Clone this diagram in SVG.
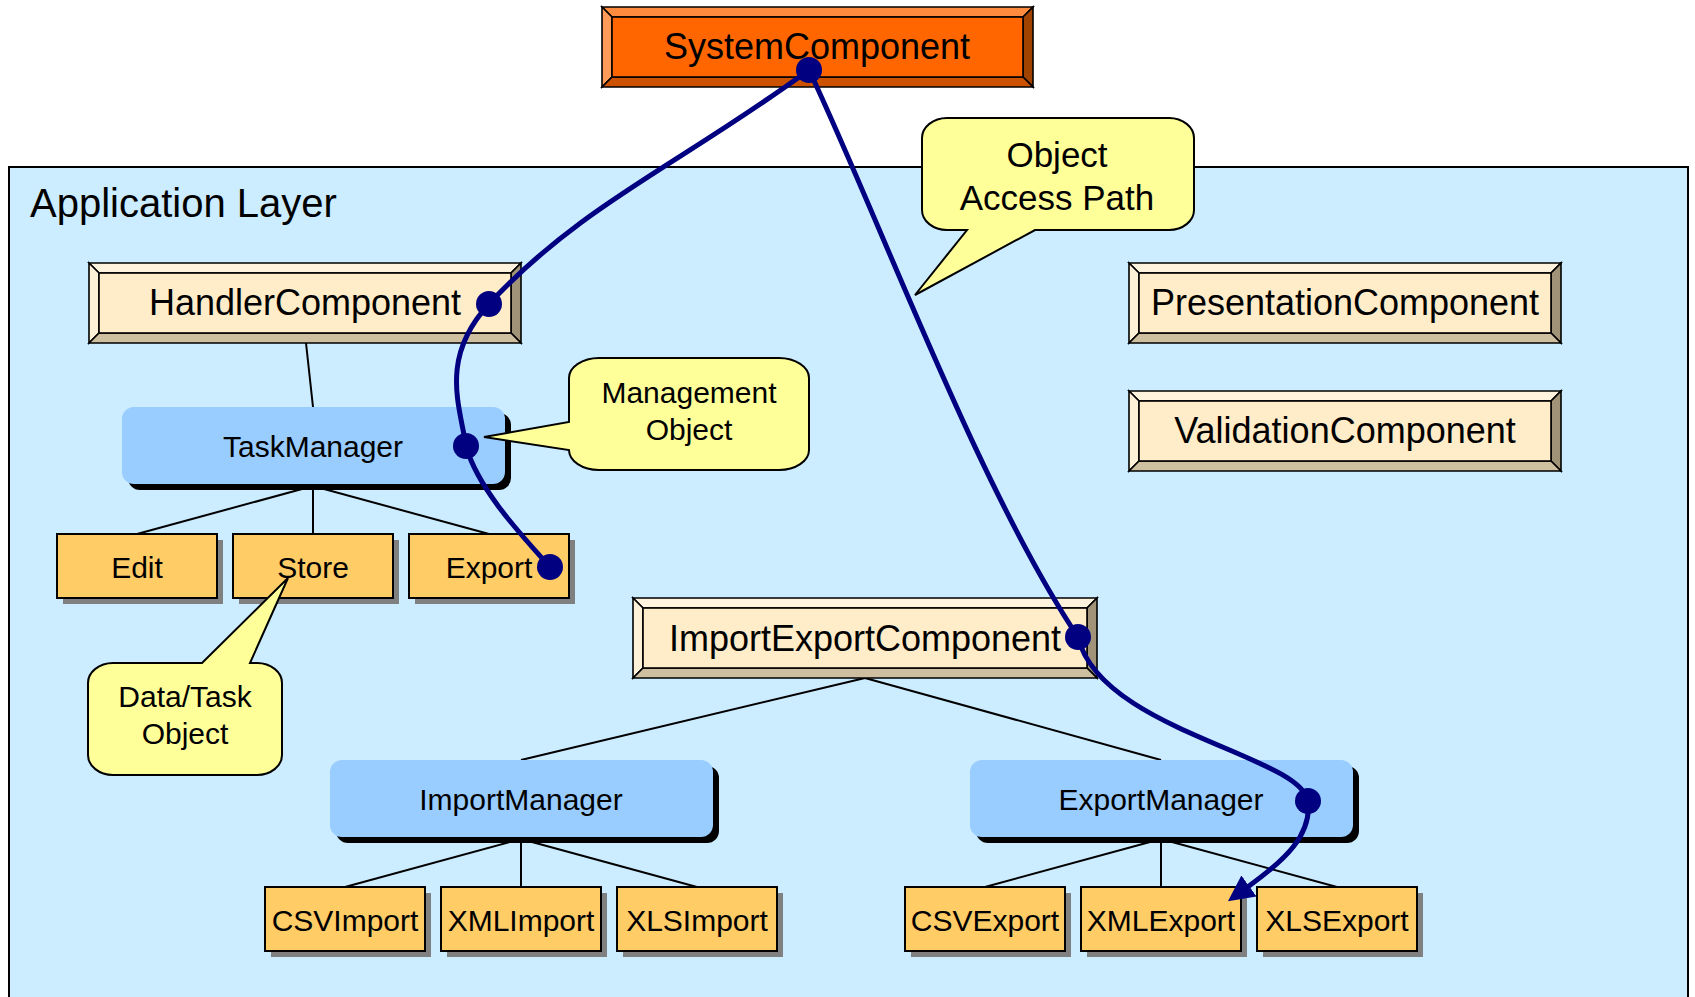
<svg xmlns="http://www.w3.org/2000/svg" width="1695" height="997" viewBox="0 0 1695 997">
  <style>
    text { font-family: "Liberation Sans", Arial, sans-serif; fill: #000; text-anchor: middle; }
    .title { font-size: 40px; text-anchor: start; }
    .comp-label { font-size: 36px; }
    .mgr-label, .leaf-label { font-size: 30px; }
    .note-label { font-size: 30px; }
    .note-big { font-size: 35px; }
    .edge { stroke: #000; stroke-width: 2; fill: none; }
    .bev { stroke: #000; stroke-width: 1.6; stroke-linejoin: miter; }
    .comp .face { fill: #FFECC8; }
    .comp .top { fill: #FFF3DE; }
    .comp .left { fill: #FFF0D8; }
    .comp .right { fill: #A09378; }
    .comp .bottom { fill: #CDBFA0; }
    .sys .face { fill: #FF6600; }
    .sys .top { fill: #FF8B3E; }
    .sys .left { fill: #FF9B58; }
    .sys .right { fill: #A04200; }
    .sys .bottom { fill: #CC5200; }
    .mgr { fill: #99CCFF; }
    .mgr-shadow { fill: #000; }
    .leaf { fill: #FFCC66; stroke: #000; stroke-width: 2; }
    .leaf-shadow { fill: #808080; }
    .note { fill: #FFFF99; stroke: #000; stroke-width: 2; stroke-linejoin: miter; }
    .path { stroke: #000080; stroke-width: 5; fill: none; stroke-linecap: round; }
    .dot { fill: #000080; }
  </style>
  <defs>
    <marker id="arrow" markerUnits="userSpaceOnUse" viewBox="0 0 26 26" markerWidth="26" markerHeight="26" refX="0" refY="13" orient="auto">
      <path d="M0,0 L26,13 L0,26 Z" fill="#000080"/>
    </marker>
  </defs>

  <rect x="0" y="0" width="1695" height="997" fill="#fff"/>

  <!-- application layer container -->
  <g id="application-layer">
    <rect x="9" y="167" width="1679" height="850" fill="#CCECFF" stroke="#000" stroke-width="2"/>
    <text class="title" x="30" y="217">Application Layer</text>
  </g>

  <!-- tree connectors -->
  <g id="connectors">
    <line class="edge" x1="306" y1="343" x2="313" y2="407"/>
    <line class="edge" x1="313" y1="486" x2="137" y2="534"/>
    <line class="edge" x1="313" y1="486" x2="313" y2="534"/>
    <line class="edge" x1="313" y1="486" x2="489" y2="534"/>
    <line class="edge" x1="865" y1="678" x2="521" y2="760"/>
    <line class="edge" x1="865" y1="678" x2="1161" y2="760"/>
    <line class="edge" x1="521" y1="839" x2="345" y2="887"/>
    <line class="edge" x1="521" y1="839" x2="521" y2="887"/>
    <line class="edge" x1="521" y1="839" x2="697" y2="887"/>
    <line class="edge" x1="1161" y1="839" x2="985" y2="887"/>
    <line class="edge" x1="1161" y1="839" x2="1161" y2="887"/>
    <line class="edge" x1="1161" y1="839" x2="1337" y2="887"/>
  </g>

  <!-- bevelled components -->
  <g id="system-component" class="sys">
    <polygon class="bev top" points="602,7 1033,7 1023,17 612,17"/>
    <polygon class="bev left" points="602,7 612,17 612,77 602,87"/>
    <polygon class="bev right" points="1033,7 1033,87 1023,77 1023,17"/>
    <polygon class="bev bottom" points="602,87 612,77 1023,77 1033,87"/>
    <rect class="bev face" x="612" y="17" width="411" height="60"/>
    <text class="comp-label" x="817" y="59">SystemComponent</text>
  </g>

  <g id="handler-component" class="comp">
    <polygon class="bev top" points="89,263 521,263 511,273 99,273"/>
    <polygon class="bev left" points="89,263 99,273 99,333 89,343"/>
    <polygon class="bev right" points="521,263 521,343 511,333 511,273"/>
    <polygon class="bev bottom" points="89,343 99,333 511,333 521,343"/>
    <rect class="bev face" x="99" y="273" width="412" height="60"/>
    <text class="comp-label" x="305" y="315">HandlerComponent</text>
  </g>

  <g id="presentation-component" class="comp">
    <polygon class="bev top" points="1129,263 1561,263 1551,273 1139,273"/>
    <polygon class="bev left" points="1129,263 1139,273 1139,333 1129,343"/>
    <polygon class="bev right" points="1561,263 1561,343 1551,333 1551,273"/>
    <polygon class="bev bottom" points="1129,343 1139,333 1551,333 1561,343"/>
    <rect class="bev face" x="1139" y="273" width="412" height="60"/>
    <text class="comp-label" x="1345" y="315">PresentationComponent</text>
  </g>

  <g id="validation-component" class="comp">
    <polygon class="bev top" points="1129,391 1561,391 1551,401 1139,401"/>
    <polygon class="bev left" points="1129,391 1139,401 1139,461 1129,471"/>
    <polygon class="bev right" points="1561,391 1561,471 1551,461 1551,401"/>
    <polygon class="bev bottom" points="1129,471 1139,461 1551,461 1561,471"/>
    <rect class="bev face" x="1139" y="401" width="412" height="60"/>
    <text class="comp-label" x="1345" y="443">ValidationComponent</text>
  </g>

  <g id="import-export-component" class="comp">
    <polygon class="bev top" points="633,598 1097,598 1087,608 643,608"/>
    <polygon class="bev left" points="633,598 643,608 643,668 633,678"/>
    <polygon class="bev right" points="1097,598 1097,678 1087,668 1087,608"/>
    <polygon class="bev bottom" points="633,678 643,668 1087,668 1097,678"/>
    <rect class="bev face" x="643" y="608" width="444" height="60"/>
    <text class="comp-label" x="865" y="651">ImportExportComponent</text>
  </g>

  <!-- managers -->
  <g id="task-manager">
    <rect class="mgr-shadow" x="128" y="413" width="383" height="77" rx="12"/>
    <rect class="mgr" x="122" y="407" width="383" height="77" rx="12"/>
    <text class="mgr-label" x="313" y="457">TaskManager</text>
  </g>
  <g id="import-manager">
    <rect class="mgr-shadow" x="336" y="766" width="383" height="77" rx="12"/>
    <rect class="mgr" x="330" y="760" width="383" height="77" rx="12"/>
    <text class="mgr-label" x="521" y="810">ImportManager</text>
  </g>
  <g id="export-manager">
    <rect class="mgr-shadow" x="976" y="766" width="383" height="77" rx="12"/>
    <rect class="mgr" x="970" y="760" width="383" height="77" rx="12"/>
    <text class="mgr-label" x="1161" y="810">ExportManager</text>
  </g>

  <!-- leaf objects -->
  <g id="edit">
    <rect class="leaf-shadow" x="63" y="540" width="160" height="64"/>
    <rect class="leaf" x="57" y="534" width="160" height="64"/>
    <text class="leaf-label" x="137" y="578">Edit</text>
  </g>
  <g id="store">
    <rect class="leaf-shadow" x="239" y="540" width="160" height="64"/>
    <rect class="leaf" x="233" y="534" width="160" height="64"/>
    <text class="leaf-label" x="313" y="578">Store</text>
  </g>
  <g id="export">
    <rect class="leaf-shadow" x="415" y="540" width="160" height="64"/>
    <rect class="leaf" x="409" y="534" width="160" height="64"/>
    <text class="leaf-label" x="489" y="578">Export</text>
  </g>
  <g id="csv-import">
    <rect class="leaf-shadow" x="271" y="893" width="160" height="64"/>
    <rect class="leaf" x="265" y="887" width="160" height="64"/>
    <text class="leaf-label" x="345" y="931">CSVImport</text>
  </g>
  <g id="xml-import">
    <rect class="leaf-shadow" x="447" y="893" width="160" height="64"/>
    <rect class="leaf" x="441" y="887" width="160" height="64"/>
    <text class="leaf-label" x="521" y="931">XMLImport</text>
  </g>
  <g id="xls-import">
    <rect class="leaf-shadow" x="623" y="893" width="160" height="64"/>
    <rect class="leaf" x="617" y="887" width="160" height="64"/>
    <text class="leaf-label" x="697" y="931">XLSImport</text>
  </g>
  <g id="csv-export">
    <rect class="leaf-shadow" x="911" y="893" width="160" height="64"/>
    <rect class="leaf" x="905" y="887" width="160" height="64"/>
    <text class="leaf-label" x="985" y="931">CSVExport</text>
  </g>
  <g id="xml-export">
    <rect class="leaf-shadow" x="1087" y="893" width="160" height="64"/>
    <rect class="leaf" x="1081" y="887" width="160" height="64"/>
    <text class="leaf-label" x="1161" y="931">XMLExport</text>
  </g>
  <g id="xls-export">
    <rect class="leaf-shadow" x="1263" y="893" width="160" height="64"/>
    <rect class="leaf" x="1257" y="887" width="160" height="64"/>
    <text class="leaf-label" x="1337" y="931">XLSExport</text>
  </g>

  <!-- callouts -->
  <g id="note-management">
    <path class="note" d="M599,358 H779 A30,20 0 0 1 809,378 V450 A30,20 0 0 1 779,470 H599 A30,20 0 0 1 569,450 L484,437 L569,422 V378 A30,20 0 0 1 599,358 Z"/>
    <text class="note-label" x="689" y="403">Management</text>
    <text class="note-label" x="689" y="440">Object</text>
  </g>
  <g id="note-data-task">
    <path class="note" d="M113,663 H202 L288,578 L250,663 H257 A25,20 0 0 1 282,683 V755 A25,20 0 0 1 257,775 H113 A25,20 0 0 1 88,755 V683 A25,20 0 0 1 113,663 Z"/>
    <text class="note-label" x="185" y="707">Data/Task</text>
    <text class="note-label" x="185" y="744">Object</text>
  </g>
  <g id="note-access-path">
    <path class="note" d="M947,118 H1169 A25,20 0 0 1 1194,138 V210 A25,20 0 0 1 1169,230 H1035 L915,295 L967,230 H947 A25,20 0 0 1 922,210 V138 A25,20 0 0 1 947,118 Z"/>
    <text class="note-big" x="1057" y="167">Object</text>
    <text class="note-big" x="1057" y="210">Access Path</text>
  </g>

  <!-- object access paths -->
  <g id="access-paths">
    <path class="path" d="M809,70 C679,165 582,204 489,304 C439,358 460,406 466,446 C478,490 525,539 550,567"/>
    <path class="path" d="M809,70 C880,220 978,487 1078,637 C1100,730 1300,755 1308,801 C1312,835 1285,860 1249,886" marker-end="url(#arrow)"/>
    <circle class="dot" cx="809" cy="70" r="13"/>
    <circle class="dot" cx="489" cy="304" r="13"/>
    <circle class="dot" cx="466" cy="446" r="13"/>
    <circle class="dot" cx="550" cy="567" r="13"/>
    <circle class="dot" cx="1078" cy="637" r="13"/>
    <circle class="dot" cx="1308" cy="801" r="13"/>
  </g>
</svg>
